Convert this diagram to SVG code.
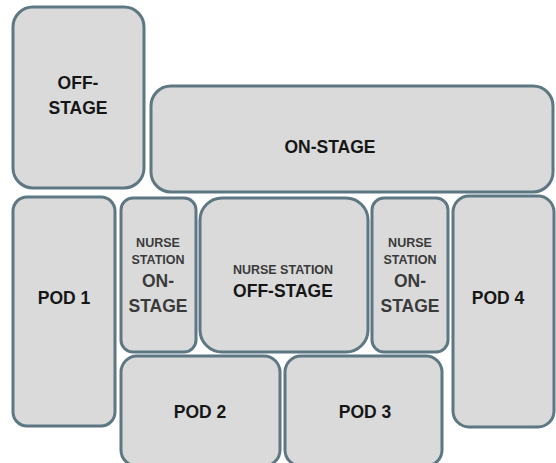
<svg xmlns="http://www.w3.org/2000/svg" width="556" height="463" viewBox="0 0 556 463">
<style>
.box{fill:#dadada;stroke:#5d7783;stroke-width:3}
.t{font-family:"Liberation Sans",Arial,sans-serif;font-weight:bold;text-anchor:middle;fill:#161616}
.big{font-size:17.5px}
.sm{font-size:12.5px;fill:#3a3a3a}
.mid{font-size:17.5px;fill:#3a3a3a}
</style>
<rect width="556" height="463" fill="#ffffff"/>
<g id="off-stage">
<rect class="box" x="13" y="7" width="131" height="181" rx="20"/>
<text class="t big" x="78" y="89">OFF-</text>
<text class="t big" x="78" y="114">STAGE</text>
</g>
<g id="on-stage">
<rect class="box" x="151" y="86" width="402" height="106" rx="20"/>
<text class="t big" x="330" y="153">ON-STAGE</text>
</g>
<g id="pod1">
<rect class="box" x="13" y="197" width="102" height="229" rx="14"/>
<text class="t big" x="64" y="304">POD 1</text>
</g>
<g id="ns-left">
<rect class="box" x="121" y="198" width="75" height="154" rx="12"/>
<text class="t sm" x="158" y="247">NURSE</text>
<text class="t sm" x="158" y="264">STATION</text>
<text class="t mid" x="158" y="287">ON-</text>
<text class="t mid" x="158" y="312">STAGE</text>
</g>
<g id="ns-off">
<rect class="box" x="200" y="198" width="168" height="154" rx="22"/>
<text class="t sm" x="283" y="274">NURSE STATION</text>
<text class="t big" x="283" y="297">OFF-STAGE</text>
</g>
<g id="ns-right">
<rect class="box" x="372" y="198" width="76" height="154" rx="12"/>
<text class="t sm" x="410" y="247">NURSE</text>
<text class="t sm" x="410" y="264">STATION</text>
<text class="t mid" x="410" y="287">ON-</text>
<text class="t mid" x="410" y="312">STAGE</text>
</g>
<g id="pod4">
<rect class="box" x="453" y="196" width="101" height="231" rx="16"/>
<text class="t big" x="498" y="304">POD 4</text>
</g>
<g id="pod2">
<rect class="box" x="121" y="356" width="159" height="110" rx="16"/>
<text class="t big" x="200" y="418">POD 2</text>
</g>
<g id="pod3">
<rect class="box" x="285" y="356" width="157" height="110" rx="16"/>
<text class="t big" x="365" y="418">POD 3</text>
</g>
<g id="connectors"></g>
</svg>
